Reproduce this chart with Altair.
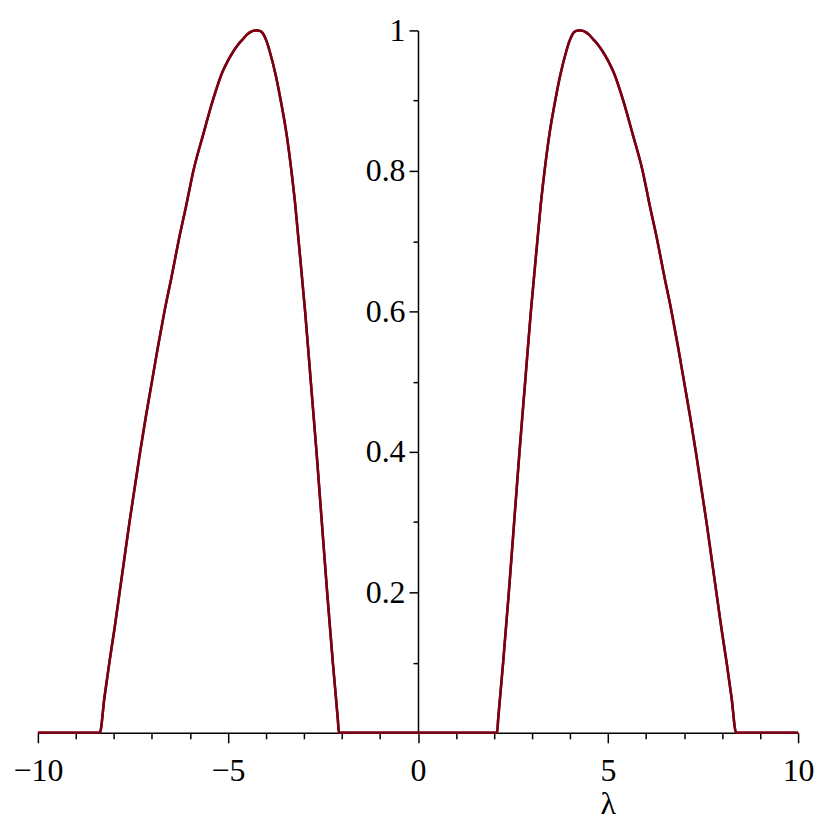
import altair as alt
import pandas as pd

# curve values (right lobe; left lobe is its mirror)
right_x = [2.08, 2.11, 2.24, 2.39, 2.53, 2.67, 2.82, 2.97, 3.14, 3.23, 3.33, 3.46, 3.61,
           3.75, 3.90, 3.98, 4.05, 4.12, 4.21, 4.30, 4.40, 4.50, 4.60, 4.73, 4.86, 5.00,
           5.15, 5.40, 5.65, 5.91, 6.10, 6.30, 6.48, 6.67, 6.84, 7.00, 7.16, 7.31, 7.45,
           7.59, 7.72, 7.85, 7.98, 8.12, 8.25, 8.37, 10.0]
right_y = [0.0, 0.02, 0.1, 0.2, 0.3, 0.4, 0.5, 0.6, 0.7, 0.752, 0.8, 0.853, 0.9,
           0.938, 0.97, 0.984, 0.993, 0.998, 1.0, 1.0, 0.998, 0.994, 0.988, 0.98, 0.97, 0.957,
           0.94, 0.9, 0.852, 0.8, 0.75, 0.7, 0.65, 0.6, 0.55, 0.5, 0.45, 0.4, 0.35,
           0.3, 0.25, 0.2, 0.15, 0.1, 0.05, 0.0, 0.0]
left_x = [-10.0, -8.37, -8.25, -8.12, -7.98, -7.85, -7.72, -7.59, -7.45, -7.31, -7.16, -7.00,
          -6.84, -6.67, -6.48, -6.30, -6.10, -5.91, -5.65, -5.40, -5.15, -5.00, -4.86, -4.73,
          -4.60, -4.50, -4.40, -4.30, -4.21, -4.12, -4.05, -3.98, -3.90, -3.75, -3.61, -3.46,
          -3.33, -3.23, -3.14, -2.97, -2.82, -2.67, -2.53, -2.39, -2.24, -2.11, -2.08]
left_y = [0.0, 0.0, 0.05, 0.1, 0.15, 0.2, 0.25, 0.3, 0.35, 0.4, 0.45, 0.5,
          0.55, 0.6, 0.65, 0.7, 0.75, 0.8, 0.852, 0.9, 0.94, 0.957, 0.97, 0.98,
          0.988, 0.994, 0.998, 1.0, 1.0, 0.998, 0.993, 0.984, 0.97, 0.938, 0.9, 0.853,
          0.8, 0.752, 0.7, 0.6, 0.5, 0.4, 0.3, 0.2, 0.1, 0.02, 0.0]

x_major = [-10, -5, 0, 5, 10]
x_minor = [-9, -8, -7, -6, -4, -3, -2, -1, 1, 2, 3, 4, 6, 7, 8, 9]
y_major = [0.2, 0.4, 0.6, 0.8, 1.0]
y_minor = [0.1, 0.3, 0.5, 0.7, 0.9]

xs = left_x + right_x
ys = left_y + right_y
df = pd.DataFrame({"lam": xs, "val": ys, "order": list(range(len(xs)))})

W, H = 763, 705
FONT = "Liberation Serif, DejaVu Serif, serif"
COLOR = "#7b0012"
FS = 32

xscale = alt.Scale(domain=[-10, 10], nice=False, zero=False)
yscale = alt.Scale(domain=[0, 1], nice=False, zero=False)

main = alt.Chart(df).mark_line(color=COLOR, strokeWidth=2.5, interpolate="monotone").encode(
    x=alt.X("lam:Q", scale=xscale,
            axis=alt.Axis(orient="bottom", values=x_major, format="d", tickSize=10,
                          tickWidth=1.5, domainWidth=1.5, domainColor="black",
                          tickColor="black", grid=False, labelFont=FONT,
                          labelFontSize=FS, labelColor="black", labelPadding=13,
                          labelFlush=False, labelOverlap=False,
                          title="λ", titleFont=FONT, titleFontSize=FS,
                          titleFontWeight="normal", titleColor="black",
                          titleX=572, titleY=71, titleBaseline="middle",
                          titleAlign="center")),
    y=alt.Y("val:Q", scale=yscale,
            axis=alt.Axis(orient="left", values=y_major, format="~g", offset=-W / 2,
                          tickSize=9, tickWidth=1.5, domainWidth=1.5, domainColor="black",
                          tickColor="black", grid=False, labelFont=FONT,
                          labelFontSize=FS, labelColor="black", labelPadding=4,
                          labelFlush=False, labelOverlap=False, title=None)),
    order="order:Q",
)

minor = alt.Chart(df).mark_line(color=COLOR, strokeWidth=2.5, interpolate="monotone").encode(
    x=alt.X("lam:Q", scale=xscale,
            axis=alt.Axis(orient="bottom", values=x_minor, tickSize=6, tickWidth=1.5,
                          tickColor="black", domain=False, labels=False, grid=False,
                          title=None)),
    y=alt.Y("val:Q", scale=yscale,
            axis=alt.Axis(orient="left", values=y_minor, offset=-W / 2, tickSize=5,
                          tickWidth=1.5, tickColor="black", domain=False, labels=False,
                          grid=False, title=None)),
    order="order:Q",
)

chart = alt.layer(minor, main).resolve_axis(x="independent", y="independent").properties(
    width=W, height=H,
    background="white",
    autosize=alt.AutoSizeParams(type="none"),
    padding={"left": 30, "top": 21, "right": 24, "bottom": 92},
).configure_view(strokeWidth=0, stroke=None)

chart.save("out.html", embed_options={"renderer": "svg", "actions": False})
